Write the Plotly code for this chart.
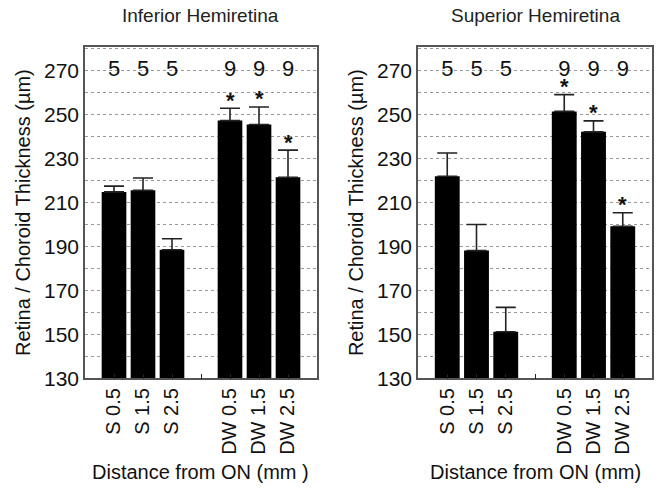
import plotly.graph_objects as go

# ---- data ----
categories = ["S 0.5", "S 1.5", "S 2.5", " ", "DW 0.5", "DW 1.5", "DW 2.5"]
groups = ["S 0.5", "S 1.5", "S 2.5", "DW 0.5", "DW 1.5", "DW 2.5"]
n_counts = [5, 5, 5, 9, 9, 9]

inferior_mean = [214.8, 215.5, 188.5, 247.2, 245.4, 221.4]
inferior_sem = [2.6, 5.6, 5.0, 5.6, 8.0, 12.4]
inferior_sig = [False, False, False, True, True, True]

superior_mean = [221.9, 188.1, 151.2, 251.4, 242.1, 199.2]
superior_sem = [10.6, 11.9, 11.1, 7.6, 5.0, 6.1]
superior_sig = [False, False, False, True, True, True]

panel_titles = ["Inferior Hemiretina", "Superior Hemiretina"]
x_titles = ["Distance from ON (mm )", "Distance from ON (mm)"]
y_title = "Retina / Choroid Thickness (\u00b5m)"
y_tick_vals = [130, 150, 170, 190, 210, 230, 250, 270]

FONT = "Liberation Sans, Arial, sans-serif"
W, H = 658, 495

fig = go.Figure()

panels = [
    (inferior_mean, inferior_sem, inferior_sig, "x", "y"),
    (superior_mean, superior_sem, superior_sig, "x2", "y2"),
]

annotations = []
for mean, sem, sig, xa, ya in panels:
    fig.add_trace(go.Bar(
        x=groups, y=mean, xaxis=xa, yaxis=ya,
        marker=dict(color="black", line=dict(width=0)),
        width=0.85,
        error_y=dict(type="data", array=sem, arrayminus=[0] * len(sem),
                     symmetric=False, color="#222", thickness=1.6, width=10),
        showlegend=False, hoverinfo="skip",
    ))
    # sample sizes
    fig.add_trace(go.Scatter(
        x=groups, y=[270] * len(groups), xaxis=xa, yaxis=ya,
        mode="text", text=[str(v) for v in n_counts],
        textposition="middle center",
        textfont=dict(family=FONT, size=22, color="#111"),
        showlegend=False, hoverinfo="skip",
    ))
    # significance stars, just above the error bars
    for g, m, e, s in zip(groups, mean, sem, sig):
        if s:
            annotations.append(dict(
                text="<b>*</b>", x=g, y=m + e, xref=xa, yref=ya,
                xanchor="center", yanchor="middle", yshift=8,
                showarrow=False, borderpad=0,
                font=dict(family=FONT, size=22, color="#111"),
            ))

x_domains = [[85 / W, 317 / W], [418 / W, 652 / W]]
y_domain = [(H - 387) / H, (H - 48) / H]

axis_common_x = dict(
    type="category", categoryorder="array", categoryarray=categories,
    range=[-1, 7], tickangle=-90, ticks="inside", ticklen=5, tickcolor="#222",
    tickfont=dict(family=FONT, size=20, color="#111"),
    showline=True, linecolor="#555", linewidth=1.5, mirror=True,
    showgrid=False, zeroline=False,
)
axis_common_y = dict(
    range=[130, 280.7], tickvals=y_tick_vals, ticks="",
    tickfont=dict(family=FONT, size=21, color="#111"),
    showline=True, linecolor="#555", linewidth=1.5, mirror=True,
    showgrid=True, gridcolor="#999", gridwidth=1, griddash="dot",
    minor=dict(dtick=10, tick0=130, showgrid=True, gridcolor="#999",
               gridwidth=1, griddash="dot", ticks=""),
    zeroline=False,
    title=dict(text=y_title, font=dict(family=FONT, size=20, color="#111"), standoff=8),
)

fig.update_layout(
    width=W, height=H,
    margin=dict(l=0, r=0, t=0, b=0),
    paper_bgcolor="white", plot_bgcolor="white",
    font=dict(family=FONT, color="#111"),
    xaxis=dict(domain=x_domains[0], anchor="y", **axis_common_x),
    xaxis2=dict(domain=x_domains[1], anchor="y2", **axis_common_x),
    yaxis=dict(domain=y_domain, anchor="x", **axis_common_y),
    yaxis2=dict(domain=y_domain, anchor="x2", **axis_common_y),
)

for i, dom in enumerate(x_domains):
    cx = (dom[0] + dom[1]) / 2
    annotations.append(dict(
        text=panel_titles[i], x=cx, y=1 - 16 / H, xref="paper", yref="paper",
        xanchor="center", yanchor="middle", showarrow=False,
        font=dict(family=FONT, size=19, color="#222"),
    ))
    annotations.append(dict(
        text=x_titles[i], x=cx, y=1 - 483 / H, xref="paper", yref="paper",
        xanchor="center", yanchor="middle", showarrow=False,
        font=dict(family=FONT, size=20, color="#111"),
    ))
fig.update_layout(annotations=annotations)

fig.write_html("out.html")
